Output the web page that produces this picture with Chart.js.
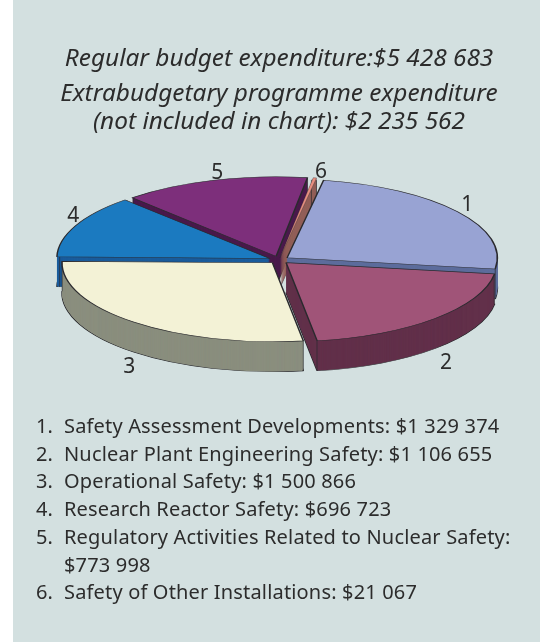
<!DOCTYPE html>
<html>
<head>
<meta charset="utf-8">
<style>
  html, body { margin: 0; padding: 0; background: #fff; }
  #panel { position: absolute; left: 13px; top: 0; width: 527px; height: 642px; background: #d3e0e0; }
  #pie { position: absolute; left: 18px; top: 0; }
  #key { position: absolute; left: 36px; top: 412px; width: 490px; margin: 0; padding: 0; list-style: none;
    font: 20px/27.7px "Noto Sans", sans-serif; letter-spacing: 0.17px; color: #2c2c2c; }
  #key li { display: flex; }
  #key .num { flex: 0 0 28px; }
</style>
<script src="https://cdn.jsdelivr.net/npm/chart.js@4/dist/chart.umd.min.js"></script>
</head>
<body>
<div id="panel"></div>
<canvas id="pie" width="522" height="642"></canvas>
<ol id="key"></ol>
<script>
const sliceLabels = ['1', '2', '3', '4', '5', '6']
const categories = [
  'Safety Assessment Developments',
  'Nuclear Plant Engineering Safety',
  'Operational Safety',
  'Research Reactor Safety',
  'Regulatory Activities Related to Nuclear Safety',
  'Safety of Other Installations'
]
const expenditure = [1329374, 1106655, 1500866, 696723, 773998, 21067]

const titleLine = 'Regular budget expenditure:$5 428 683'
const subtitleLines = ['Extrabudgetary programme expenditure', '(not included in chart): $2 235 562']

const topColors = ['#98a3d3', '#a05478', '#f3f2d6', '#1b7ac0', '#7d2f7b', '#e78f80']
const sideColors = ['#5d6d9c', '#62304a', '#8a8e7e', '#1a5c9c', '#4a1a4c', '#925f58']
const outline = '#2a2a2e'

// back to front, so the near slices cover the sides of the far ones
const paintOrder = [4, 5, 0, 3, 1, 2]
// label position relative to the middle of the slice's rim
const labelNudge = [[18, -9], [18, 47], [-11, 48], [-14, -12], [0, -12], [8, -10]]
const sliceOffsets = [40, 40, 40, 40, 40, 24]
const edgeWidths = [1.5, 1.5, 1.5, 1.5, 1.5, 0.5]

const squash = 0.375
const depth = 30
const centerY = 260

function money(v) {
  return '$' + String(v).replace(/\B(?=(\d{3})+$)/g, '\u00a0')
}

function drawWith(el, ctx, backgroundColor, borderColor, borderWidth) {
  const saved = el.options
  el.options = {
    backgroundColor, borderColor, borderWidth,
    borderAlign: 'center', borderJoinStyle: 'bevel',
    borderRadius: 0, circular: true, spacing: 0,
    offset: saved.offset
  }
  el.draw(ctx)
  el.options = saved
}

const pie3d = {
  id: 'pie3d',
  beforeDatasetDraw(chart, args) {
    const ctx = chart.ctx
    const arcs = args.meta.data
    const lift = centerY - arcs[0].y * squash
    ctx.save()
    ctx.translate(0, lift)
    ctx.scale(1, squash)
    paintOrder.forEach(i => {
      const el = arcs[i]
      const off = el.options.offset / 4
      const mid = (el.startAngle + el.endAngle) / 2
      const ox = el.x + Math.cos(mid) * off
      const oy = el.y + Math.sin(mid) * off
      const drop = depth / squash

      ctx.save()
      ctx.translate(0, drop)
      drawWith(el, ctx, sideColors[i], outline, edgeWidths[i])
      ctx.restore()
      for (let k = depth - 0.5; k > 0; k -= 0.5) {
        ctx.save()
        ctx.translate(0, k / squash)
        drawWith(el, ctx, sideColors[i], sideColors[i], 0)
        ctx.restore()
      }

      // vertical edges at both ends of the rim
      ctx.strokeStyle = outline
      ctx.lineWidth = 1
      ;[el.startAngle, el.endAngle].forEach(a => {
        const x = ox + Math.cos(a) * el.outerRadius
        const y = oy + Math.sin(a) * el.outerRadius
        ctx.beginPath()
        ctx.moveTo(x, y)
        ctx.lineTo(x, y + drop)
        ctx.stroke()
      })

      drawWith(el, ctx, topColors[i], outline, edgeWidths[i])
    })
    ctx.restore()
    return false
  },
  afterDatasetsDraw(chart) {
    const ctx = chart.ctx
    const arcs = chart.getDatasetMeta(0).data
    ctx.save()
    ctx.font = '21px "Noto Sans", sans-serif'
    ctx.fillStyle = '#2c2c2c'
    ctx.textAlign = 'center'
    ctx.textBaseline = 'middle'
    arcs.forEach((el, i) => {
      const mid = (el.startAngle + el.endAngle) / 2
      const x = el.x + Math.cos(mid) * el.outerRadius + labelNudge[i][0]
      const y = centerY + Math.sin(mid) * el.outerRadius * squash + labelNudge[i][1]
      ctx.fillText(sliceLabels[i], x, y)
    })
    ctx.restore()
  }
}

new Chart(document.getElementById('pie'), {
  type: 'pie',
  data: {
    labels: categories,
    datasets: [{
      data: expenditure,
      backgroundColor: topColors,
      borderColor: outline,
      borderWidth: 1.5,
      offset: sliceOffsets
    }]
  },
  options: {
    responsive: false,
    animation: false,
    rotation: 10,
    layout: { padding: { left: 30, right: 30 } },
    plugins: {
      legend: { display: false },
      tooltip: { enabled: false },
      title: {
        display: true,
        text: titleLine,
        color: '#2c2c2c',
        padding: { top: 43, bottom: 5 },
        font: { family: '"Noto Sans", sans-serif', size: 24.4, style: 'italic', weight: 'normal', lineHeight: 32 / 24.4 }
      },
      subtitle: {
        display: true,
        text: subtitleLines,
        color: '#2c2c2c',
        padding: { top: 0, bottom: 10 },
        font: { family: '"Noto Sans", sans-serif', size: 24.4, style: 'italic', weight: 'normal', lineHeight: 28 / 24.4 }
      }
    }
  },
  plugins: [pie3d]
})

const key = document.getElementById('key')
categories.forEach((name, i) => {
  const li = document.createElement('li')
  const num = document.createElement('span')
  num.className = 'num'
  num.textContent = sliceLabels[i] + '.'
  const txt = document.createElement('span')
  txt.textContent = name + ': ' + money(expenditure[i])
  li.appendChild(num)
  li.appendChild(txt)
  key.appendChild(li)
})
</script>
</body>
</html>
